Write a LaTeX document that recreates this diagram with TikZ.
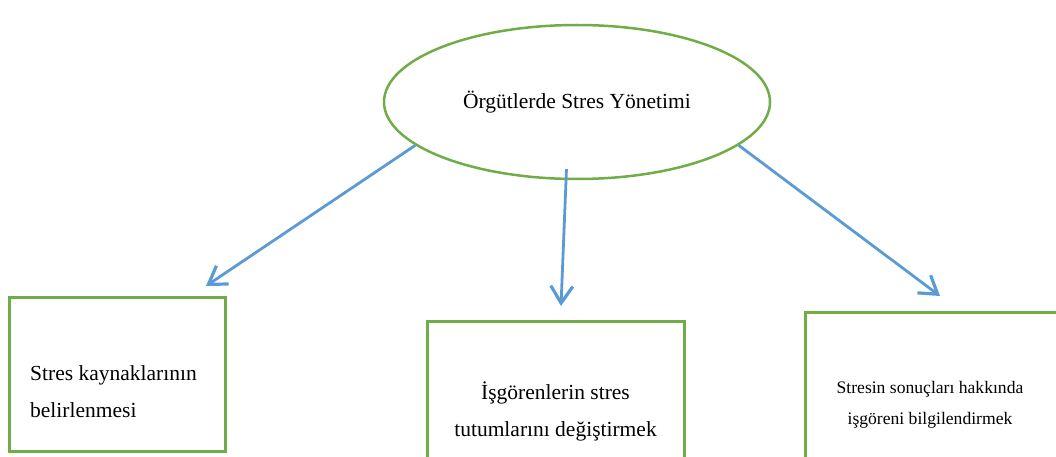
\documentclass[tikz,border=0pt]{standalone}
\usepackage{fontspec}
\setmainfont{Liberation Serif}
\usetikzlibrary{arrows.meta,positioning,shapes.geometric}
\definecolor{boxgreen}{HTML}{70AD47}
\definecolor{arrowblue}{HTML}{5B9BD5}
\tikzset{
    mainellipse/.style={draw=boxgreen, line width=2.5pt, ellipse, minimum width=386pt, minimum height=154pt, inner sep=0pt, font=\fontsize{21.5}{26}\selectfont},
    itembox/.style={draw=boxgreen, line width=3pt, inner sep=0pt},
    itemtext/.style={inner sep=0pt, font=\fontsize{21.5}{37}\selectfont},
    itemarrow/.style={-{Straight Barb[length=17pt,width=22pt,line width=3.2pt]}, draw=arrowblue, line width=2.8pt}
}
\begin{document}
\begin{tikzpicture}[x=1pt,y=1pt]
    \useasboundingbox (0,0) rectangle (1056,456);
    \clip (0,0) rectangle (1056,456);
    % ellipse and boxes
    \node[mainellipse] (main) at (577,354) {Örgütlerde Stres Yönetimi};
    \node[itembox, minimum width=216pt, minimum height=154pt] (kaynak) at (117,82) {};
    \node[itembox, minimum width=257pt, minimum height=185pt] (tutum) at (555.5,42.5) {};
    \node[itembox, minimum width=265pt, minimum height=194pt] (sonuc) at (937.5,47) {};
    % box texts
    \node[itemtext, align=left, anchor=west] (kaynaktext) at (30,64) {Stres kaynaklarının\\belirlenmesi};
    \node[itemtext, align=center] (tutumtext) at (555.5,44.3) {İşgörenlerin stres\\tutumlarını değiştirmek};
    \node[itemtext, align=center, font=\fontsize{17.6}{31}\selectfont] (sonuctext) at (930,51) {Stresin sonuçları hakkında\\işgöreni bilgilendirmek};
    % arrow tips
    \coordinate (kaynaktip) at (206,170);
    \coordinate (tutumtip) at (561,150);
    \coordinate (sonuctip) at (940,160);
    \draw[itemarrow] (main.195) -- (kaynaktip);
    \draw[itemarrow, shorten <=-11pt] (main.262) -- (tutumtip);
    \draw[itemarrow] (main.345) -- (sonuctip);
\end{tikzpicture}
\end{document}
